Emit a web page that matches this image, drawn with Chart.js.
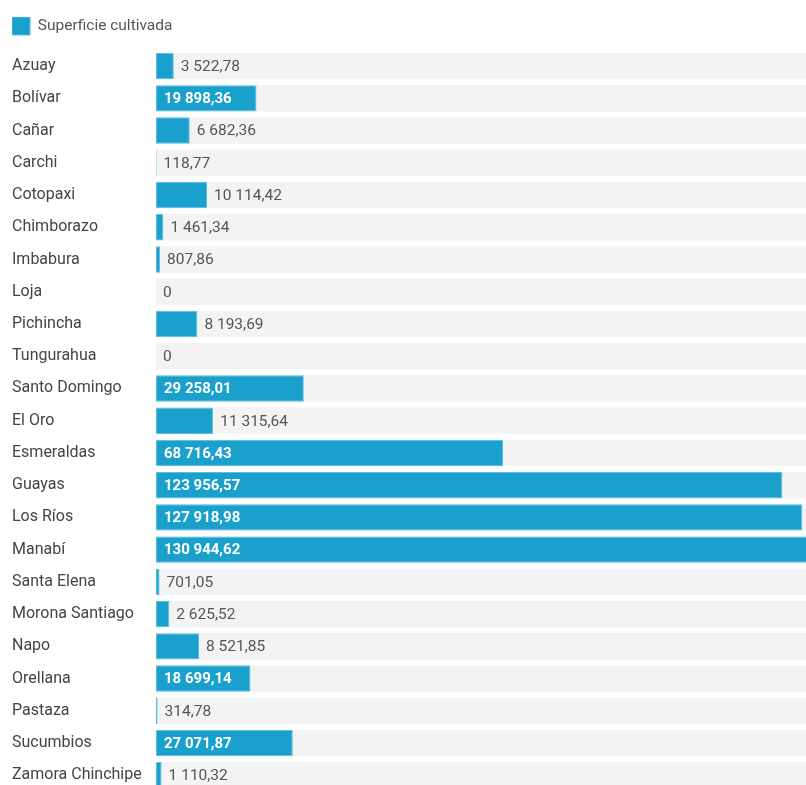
<!DOCTYPE html>
<html>
<head>
<meta charset="utf-8">
<script src="https://cdn.jsdelivr.net/npm/chart.js@4.4.1/dist/chart.umd.min.js"></script>
<style>
  html, body { margin: 0; padding: 0; background: #fff; overflow: hidden; }
  #wrap { width: 806px; height: 785px; overflow: hidden; position: relative; }
  canvas { position: absolute; left: 0; top: 0; }
</style>
</head>
<body>
<div id="wrap">
  <canvas id="chart" width="833" height="801"></canvas>
</div>
<script>
// Datos: superficie cultivada por provincia
const provincias = [
  'Azuay', 'Bolívar', 'Cañar', 'Carchi', 'Cotopaxi', 'Chimborazo', 'Imbabura',
  'Loja', 'Pichincha', 'Tungurahua', 'Santo Domingo', 'El Oro', 'Esmeraldas',
  'Guayas', 'Los Ríos', 'Manabí', 'Santa Elena', 'Morona Santiago', 'Napo',
  'Orellana', 'Pastaza', 'Sucumbios', 'Zamora Chinchipe'
];
const superficie = [
  3522.78, 19898.36, 6682.36, 118.77, 10114.42, 1461.34, 807.86,
  0, 8193.69, 0, 29258.01, 11315.64, 68716.43,
  123956.57, 127918.98, 130944.62, 701.05, 2625.52, 8521.85,
  18699.14, 314.78, 27071.87, 1110.32
];
const serieNombre = 'Superficie cultivada';

const COLORS = {
  bar: '#19a0cc',
  barBorder: '#5dbde0',
  rowBg: '#f3f3f3',
  label: '#444',
  valueOut: '#555',
  valueIn: '#fff'
};
const FONT = 'Roboto, "Open Sans", sans-serif';

// 3 522,78
function formatNumber(v) {
  const parts = v.toFixed(2).split('.');
  const ent = parts[0].replace(/\B(?=(\d{3})+(?!\d))/g, ' ');
  return v === 0 ? '0' : ent + ',' + parts[1];
}

// filas grises detrás de las barras
const rowBackground = {
  id: 'rowBackground',
  beforeDatasetsDraw(chart) {
    const { ctx, chartArea } = chart;
    const meta = chart.getDatasetMeta(0);
    ctx.save();
    ctx.fillStyle = COLORS.rowBg;
    meta.data.forEach((bar) => {
      const h = bar.height;
      ctx.fillRect(chartArea.left, bar.y - h / 2, chartArea.right - chartArea.left, h);
    });
    ctx.restore();
  }
};

// etiquetas de valores
const valueLabels = {
  id: 'valueLabels',
  afterDatasetsDraw(chart) {
    const { ctx } = chart;
    const meta = chart.getDatasetMeta(0);
    ctx.save();
    ctx.textBaseline = 'middle';
    meta.data.forEach((bar, i) => {
      const text = formatNumber(superficie[i]);
      const w = bar.x - bar.base;
      ctx.font = 'bold 15px ' + FONT;
      const tw = ctx.measureText(text).width;
      if (w > tw + 16) {
        ctx.fillStyle = COLORS.valueIn;
        ctx.fillText(text, bar.base + 8, bar.y + 1);
      } else {
        ctx.font = '15.5px ' + FONT;
        ctx.fillStyle = COLORS.valueOut;
        ctx.fillText(text, bar.x + 7, bar.y + 1);
      }
    });
    ctx.restore();
  }
};

const legendMargin = {
  id: 'legendMargin',
  beforeInit(chart) {
    const fit = chart.legend.fit;
    chart.legend.fit = function () {
      fit.bind(chart.legend)();
      this.height += 5;
    };
  }
};

new Chart(document.getElementById('chart').getContext('2d'), {
  type: 'bar',
  data: {
    labels: provincias,
    datasets: [{
      label: serieNombre,
      data: superficie,
      backgroundColor: COLORS.bar,
      borderColor: COLORS.barBorder,
      borderWidth: 1,
      borderSkipped: false,
      categoryPercentage: 1,
      barPercentage: 0.82
    }]
  },
  options: {
    indexAxis: 'y',
    responsive: false,
    animation: false,
    devicePixelRatio: 1,
    layout: { padding: { left: 12, top: 17, right: 0, bottom: 0 } },
    plugins: {
      tooltip: { enabled: false },
      legend: {
        position: 'top',
        align: 'start',
        labels: {
          boxWidth: 18,
          boxHeight: 18,
          padding: 0,
          color: '#555',
          font: { family: FONT, size: 15.5 }
        }
      }
    },
    scales: {
      x: {
        display: false,
        min: 0,
        max: 134000
      },
      y: {
        grid: { display: false },
        border: { display: false },
        afterFit(scale) { scale.width = 144; },
        ticks: {
          crossAlign: 'far',
          color: COLORS.label,
          font: { family: FONT, size: 16 },
          padding: 0
        }
      }
    }
  },
  plugins: [rowBackground, valueLabels, legendMargin]
});
</script>
</body>
</html>
